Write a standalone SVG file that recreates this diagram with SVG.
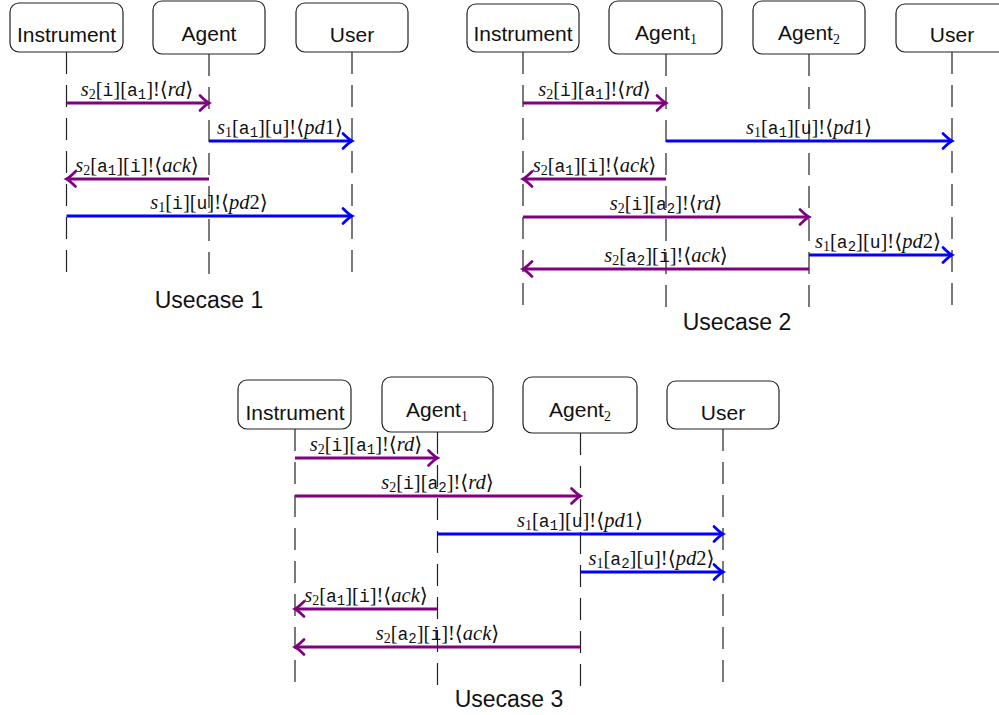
<svg xmlns="http://www.w3.org/2000/svg" width="999" height="715" viewBox="0 0 999 715">
<style>
.box{fill:#fff;stroke:#222;stroke-width:1.2}
.lbl{font-family:"Liberation Sans",Arial,sans-serif;font-size:21px;text-anchor:middle;fill:#111}
.cap{font-size:23px}
.asub{font-family:"Liberation Serif","DejaVu Serif",serif;font-size:14px}
.life{stroke:#222;stroke-width:1.2;stroke-dasharray:22 11;fill:none}
.msg{font-family:"Liberation Serif","DejaVu Serif",serif;font-size:20.5px;text-anchor:middle;fill:#111}
.it{font-style:italic}
.tt{font-family:"Liberation Mono","DejaVu Sans Mono",monospace;font-size:18px}
.sb{font-size:14px}
.p{stroke:#800080;stroke-width:2.8;fill:none;marker-end:url(#ap)}
.b{stroke:#0000ff;stroke-width:2.8;fill:none;marker-end:url(#ab)}
</style>
<defs>
<marker id="ap" markerUnits="userSpaceOnUse" viewBox="-11 -9 13 18" refX="0" refY="0" markerWidth="13" markerHeight="18" orient="auto" overflow="visible">
<path d="M-9,-7.5 Q-3,-1.5 0,0 Q-3,1.5 -9,7.5" fill="none" stroke="#800080" stroke-width="2.7" stroke-linecap="round"/>
</marker>
<marker id="ab" markerUnits="userSpaceOnUse" viewBox="-11 -9 13 18" refX="0" refY="0" markerWidth="13" markerHeight="18" orient="auto" overflow="visible">
<path d="M-9,-7.5 Q-3,-1.5 0,0 Q-3,1.5 -9,7.5" fill="none" stroke="#0000ff" stroke-width="2.7" stroke-linecap="round"/>
</marker>
</defs>

<!-- Usecase 1 -->
<g id="uc1-instrument">
<rect class="box" x="10" y="3" width="113" height="49" rx="9"/>
<text class="lbl" x="66.5" y="42">Instrument</text>
<line class="life" x1="66.5" y1="52" x2="66.5" y2="279"/>
</g>
<g id="uc1-agent">
<rect class="box" x="153" y="1" width="112" height="53" rx="9"/>
<text class="lbl" x="209" y="41">Agent</text>
<line class="life" x1="209" y1="54" x2="209" y2="279"/>
</g>
<g id="uc1-user">
<rect class="box" x="296" y="3" width="112" height="49" rx="9"/>
<text class="lbl" x="352" y="42">User</text>
<line class="life" x1="352" y1="52" x2="352" y2="279"/>
</g>
<text class="lbl cap" x="209" y="308">Usecase 1</text>

<!-- Usecase 2 -->
<g id="uc2-instrument">
<rect class="box" x="467" y="4" width="112" height="48" rx="9"/>
<text class="lbl" x="523" y="41">Instrument</text>
<line class="life" x1="523" y1="52" x2="523" y2="311"/>
</g>
<g id="uc2-agent1">
<rect class="box" x="609" y="1" width="113" height="53" rx="9"/>
<text class="lbl" x="666" y="40">Agent<tspan class="asub" dy="4">1</tspan></text>
<line class="life" x1="666" y1="54" x2="666" y2="311"/>
</g>
<g id="uc2-agent2">
<rect class="box" x="753" y="1" width="112" height="53" rx="9"/>
<text class="lbl" x="809" y="40">Agent<tspan class="asub" dy="4">2</tspan></text>
<line class="life" x1="809" y1="54" x2="809" y2="311"/>
</g>
<g id="uc2-user">
<rect class="box" x="896" y="4" width="112" height="48" rx="9"/>
<text class="lbl" x="952" y="42">User</text>
<line class="life" x1="952" y1="52" x2="952" y2="311"/>
</g>
<text class="lbl cap" x="737" y="330">Usecase 2</text>

<!-- Usecase 3 -->
<g id="uc3-instrument">
<rect class="box" x="238" y="380" width="113" height="49" rx="9"/>
<text class="lbl" x="295" y="420">Instrument</text>
<line class="life" x1="295" y1="429" x2="295" y2="689"/>
</g>
<g id="uc3-agent1">
<rect class="box" x="382" y="377" width="111" height="55" rx="9"/>
<text class="lbl" x="437" y="417">Agent<tspan class="asub" dy="4">1</tspan></text>
<line class="life" x1="437.5" y1="432" x2="437.5" y2="689"/>
</g>
<g id="uc3-agent2">
<rect class="box" x="523" y="377" width="114" height="56" rx="9"/>
<text class="lbl" x="580" y="417">Agent<tspan class="asub" dy="4">2</tspan></text>
<line class="life" x1="580.5" y1="433" x2="580.5" y2="689"/>
</g>
<g id="uc3-user">
<rect class="box" x="667" y="381" width="112" height="48" rx="9"/>
<text class="lbl" x="723" y="420">User</text>
<line class="life" x1="723" y1="429" x2="723" y2="689"/>
</g>
<text class="lbl cap" x="509" y="707">Usecase 3</text>

<g id="connectors">
<!-- UC1 -->
<line class="p" x1="66.5" y1="103" x2="209" y2="103"/>
<text class="msg" x="137" y="96"><tspan class="it">s</tspan><tspan class="sb" dy="3">2</tspan><tspan dy="-3">[</tspan><tspan class="tt">i</tspan>][<tspan class="tt">a</tspan><tspan class="tt sb" dy="3">1</tspan><tspan dy="-3">]!⟨</tspan><tspan class="it">rd</tspan>⟩</text>
<line class="b" x1="209" y1="141" x2="352" y2="141"/>
<text class="msg" x="280" y="134"><tspan class="it">s</tspan><tspan class="sb" dy="3">1</tspan><tspan dy="-3">[</tspan><tspan class="tt">a</tspan><tspan class="tt sb" dy="3">1</tspan><tspan dy="-3">][</tspan><tspan class="tt">u</tspan>]!⟨<tspan class="it">pd</tspan>1⟩</text>
<line class="p" x1="209" y1="179" x2="66.5" y2="179"/>
<text class="msg" x="137" y="172"><tspan class="it">s</tspan><tspan class="sb" dy="3">2</tspan><tspan dy="-3">[</tspan><tspan class="tt">a</tspan><tspan class="tt sb" dy="3">1</tspan><tspan dy="-3">][</tspan><tspan class="tt">i</tspan>]!⟨<tspan class="it">ack</tspan>⟩</text>
<line class="b" x1="66.5" y1="216" x2="352" y2="216"/>
<text class="msg" x="209" y="209"><tspan class="it">s</tspan><tspan class="sb" dy="3">1</tspan><tspan dy="-3">[</tspan><tspan class="tt">i</tspan>][<tspan class="tt">u</tspan>]!⟨<tspan class="it">pd</tspan>2⟩</text>

<!-- UC2 -->
<line class="p" x1="523" y1="103" x2="666" y2="103"/>
<text class="msg" x="594.5" y="96"><tspan class="it">s</tspan><tspan class="sb" dy="3">2</tspan><tspan dy="-3">[</tspan><tspan class="tt">i</tspan>][<tspan class="tt">a</tspan><tspan class="tt sb" dy="3">1</tspan><tspan dy="-3">]!⟨</tspan><tspan class="it">rd</tspan>⟩</text>
<line class="b" x1="666" y1="141" x2="952" y2="141"/>
<text class="msg" x="809" y="134"><tspan class="it">s</tspan><tspan class="sb" dy="3">1</tspan><tspan dy="-3">[</tspan><tspan class="tt">a</tspan><tspan class="tt sb" dy="3">1</tspan><tspan dy="-3">][</tspan><tspan class="tt">u</tspan>]!⟨<tspan class="it">pd</tspan>1⟩</text>
<line class="p" x1="666" y1="179" x2="523" y2="179"/>
<text class="msg" x="594.5" y="172"><tspan class="it">s</tspan><tspan class="sb" dy="3">2</tspan><tspan dy="-3">[</tspan><tspan class="tt">a</tspan><tspan class="tt sb" dy="3">1</tspan><tspan dy="-3">][</tspan><tspan class="tt">i</tspan>]!⟨<tspan class="it">ack</tspan>⟩</text>
<line class="p" x1="523" y1="217" x2="809" y2="217"/>
<text class="msg" x="666" y="210"><tspan class="it">s</tspan><tspan class="sb" dy="3">2</tspan><tspan dy="-3">[</tspan><tspan class="tt">i</tspan>][<tspan class="tt">a</tspan><tspan class="tt sb" dy="3">2</tspan><tspan dy="-3">]!⟨</tspan><tspan class="it">rd</tspan>⟩</text>
<line class="b" x1="809" y1="255" x2="952" y2="255"/>
<text class="msg" x="878" y="248"><tspan class="it">s</tspan><tspan class="sb" dy="3">1</tspan><tspan dy="-3">[</tspan><tspan class="tt">a</tspan><tspan class="tt sb" dy="3">2</tspan><tspan dy="-3">][</tspan><tspan class="tt">u</tspan>]!⟨<tspan class="it">pd</tspan>2⟩</text>
<line class="p" x1="809" y1="269" x2="523" y2="269"/>
<text class="msg" x="666" y="262"><tspan class="it">s</tspan><tspan class="sb" dy="3">2</tspan><tspan dy="-3">[</tspan><tspan class="tt">a</tspan><tspan class="tt sb" dy="3">2</tspan><tspan dy="-3">][</tspan><tspan class="tt">i</tspan>]!⟨<tspan class="it">ack</tspan>⟩</text>

<!-- UC3 -->
<line class="p" x1="295" y1="458" x2="437.5" y2="458"/>
<text class="msg" x="366" y="451"><tspan class="it">s</tspan><tspan class="sb" dy="3">2</tspan><tspan dy="-3">[</tspan><tspan class="tt">i</tspan>][<tspan class="tt">a</tspan><tspan class="tt sb" dy="3">1</tspan><tspan dy="-3">]!⟨</tspan><tspan class="it">rd</tspan>⟩</text>
<line class="p" x1="295" y1="496" x2="580.5" y2="496"/>
<text class="msg" x="437.5" y="489"><tspan class="it">s</tspan><tspan class="sb" dy="3">2</tspan><tspan dy="-3">[</tspan><tspan class="tt">i</tspan>][<tspan class="tt">a</tspan><tspan class="tt sb" dy="3">2</tspan><tspan dy="-3">]!⟨</tspan><tspan class="it">rd</tspan>⟩</text>
<line class="b" x1="437.5" y1="534" x2="723" y2="534"/>
<text class="msg" x="580" y="527"><tspan class="it">s</tspan><tspan class="sb" dy="3">1</tspan><tspan dy="-3">[</tspan><tspan class="tt">a</tspan><tspan class="tt sb" dy="3">1</tspan><tspan dy="-3">][</tspan><tspan class="tt">u</tspan>]!⟨<tspan class="it">pd</tspan>1⟩</text>
<line class="b" x1="580.5" y1="572" x2="723" y2="572"/>
<text class="msg" x="651.5" y="565"><tspan class="it">s</tspan><tspan class="sb" dy="3">1</tspan><tspan dy="-3">[</tspan><tspan class="tt">a</tspan><tspan class="tt sb" dy="3">2</tspan><tspan dy="-3">][</tspan><tspan class="tt">u</tspan>]!⟨<tspan class="it">pd</tspan>2⟩</text>
<line class="p" x1="437.5" y1="609" x2="295" y2="609"/>
<text class="msg" x="366" y="602"><tspan class="it">s</tspan><tspan class="sb" dy="3">2</tspan><tspan dy="-3">[</tspan><tspan class="tt">a</tspan><tspan class="tt sb" dy="3">1</tspan><tspan dy="-3">][</tspan><tspan class="tt">i</tspan>]!⟨<tspan class="it">ack</tspan>⟩</text>
<line class="p" x1="580.5" y1="647" x2="295" y2="647"/>
<text class="msg" x="437.5" y="640"><tspan class="it">s</tspan><tspan class="sb" dy="3">2</tspan><tspan dy="-3">[</tspan><tspan class="tt">a</tspan><tspan class="tt sb" dy="3">2</tspan><tspan dy="-3">][</tspan><tspan class="tt">i</tspan>]!⟨<tspan class="it">ack</tspan>⟩</text>
</g>
</svg>
